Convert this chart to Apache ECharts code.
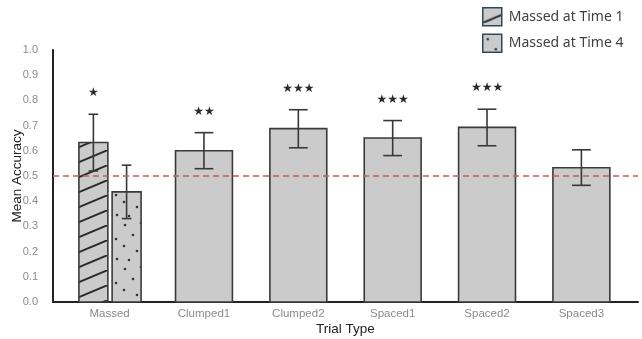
<!DOCTYPE html>
<html>
<head>
<meta charset="utf-8">
<script src="https://cdn.jsdelivr.net/npm/echarts@6/dist/echarts.min.js"></script>
<style>
html,body{margin:0;padding:0;background:#fff;}
#chart{width:642px;height:339px;}
</style>
</head>
<body>
<div id="chart"></div>
<script>
// ---- data ----
const categories = ['Massed', 'Clumped1', 'Clumped2', 'Spaced1', 'Spaced2', 'Spaced3'];
const massedNames = ['Massed at Time 1', 'Massed at Time 4'];
const massedMeans = [0.633, 0.437];
const massedErrLow = [0.520, 0.331];
const massedErrHigh = [0.745, 0.543];
const massedStars = ['★', ''];
const trialCategories = ['Clumped1', 'Clumped2', 'Spaced1', 'Spaced2', 'Spaced3'];
const trialMeans = [0.600, 0.688, 0.651, 0.693, 0.533];
const trialErrLow = [0.529, 0.612, 0.581, 0.620, 0.463];
const trialErrHigh = [0.672, 0.763, 0.720, 0.765, 0.604];
const trialStars = ['★★', '★★★', '★★★', '★★★', ''];
const chanceLevel = 0.5;
const yTickValues = [0, 0.1, 0.2, 0.3, 0.4, 0.5, 0.6, 0.7, 0.8, 0.9, 1.0];

// ---- styles ----
const BAR_FILL = '#cbcbcb';
const BAR_STROKE = '#3a3a3a';

function hatchPattern() {
  const c = document.createElement('canvas');
  c.width = 36; c.height = 15;
  const g = c.getContext('2d');
  g.fillStyle = BAR_FILL; g.fillRect(0, 0, 36, 15);
  g.strokeStyle = '#2a2a2a'; g.lineWidth = 2;
  for (const dx of [-36, 0, 36]) {
    g.beginPath(); g.moveTo(dx, 15); g.lineTo(dx + 36, 0); g.stroke();
  }
  return { image: c, repeat: 'repeat' };
}
function dotPattern() {
  const c = document.createElement('canvas');
  c.width = 30; c.height = 44;
  const g = c.getContext('2d');
  g.fillStyle = BAR_FILL; g.fillRect(0, 0, 30, 44);
  g.fillStyle = '#333';
  const pts = [[5, 5], [21, 3], [13, 15], [26, 19], [4, 26], [17, 31], [27, 39], [9, 40]];
  for (const p of pts) { g.beginPath(); g.arc(p[0], p[1], 1.3, 0, Math.PI * 2); g.fill(); }
  return { image: c, repeat: 'repeat' };
}
const hatch = hatchPattern();
const dots = dotPattern();

function makeRender(fill, offsetFrac, widthFrac, starsArr, errLowArr, errHighArr) {
  return function (params, api) {
    const i = params.dataIndex;
    const x = api.value(0), v = api.value(1);
    const unit = api.size([1, 0])[0];
    const base = api.coord([x, 0]);
    const cx = base[0] + offsetFrac * unit;
    const w = widthFrac * unit;
    const top = api.coord([x, v])[1];
    const eHi = api.coord([x, errHighArr[i]])[1];
    const eLo = api.coord([x, errLowArr[i]])[1];
    const cap = w * 0.33;
    const errStyle = { stroke: '#383838', lineWidth: 1.6 };
    return {
      type: 'group',
      children: [
        { type: 'rect', shape: { x: cx - w / 2, y: top, width: w, height: base[1] - top },
          style: { fill: fill, stroke: BAR_STROKE, lineWidth: 1.6 } },
        { type: 'line', shape: { x1: cx, y1: eHi, x2: cx, y2: eLo }, style: errStyle },
        { type: 'line', shape: { x1: cx - cap / 2, y1: eHi, x2: cx + cap / 2, y2: eHi }, style: errStyle },
        { type: 'line', shape: { x1: cx - cap / 2, y1: eLo, x2: cx + cap / 2, y2: eLo }, style: errStyle },
        { type: 'text', style: { text: starsArr[i], x: cx, y: eHi - 21, align: 'center', verticalAlign: 'middle',
          fill: '#2a2a2a', font: '12px "DejaVu Sans"' } }
      ]
    };
  };
}

const chart = echarts.init(document.getElementById('chart'), null, { renderer: 'canvas' });
const option = {
  animation: false,
  backgroundColor: '#fff',
  grid: { left: 53, right: 4, top: 50, bottom: 37, containLabel: false, outerBoundsMode: 'none' },
  legend: {
    orient: 'vertical', left: 482, top: 7, padding: 0,
    itemWidth: 19, itemHeight: 18, itemGap: 7,
    textStyle: { fontSize: 14, color: '#404040', fontFamily: 'Noto Sans', padding: [0, 0, 0, 2] },
    data: [
      { name: massedNames[0], icon: 'rect', itemStyle: { color: hatch, borderColor: '#2f4858', borderWidth: 1.5 } },
      { name: massedNames[1], icon: 'rect', itemStyle: { color: dots, borderColor: '#2f4858', borderWidth: 1.5 } }
    ]
  },
  xAxis: {
    type: 'value', min: -0.6, max: 5.6,
    axisLine: { show: true, onZero: false, lineStyle: { color: '#222', width: 2 } },
    axisTick: { show: false },
    splitLine: { show: false },
    axisLabel: {
      customValues: categories.map((c, i) => i),
      formatter: v => categories[Math.round(v)],
      color: '#8a8a8a', fontSize: 11.5, margin: 6, fontFamily: 'Liberation Sans'
    },
    name: 'Trial Type', nameLocation: 'middle', nameGap: 20, nameMoveOverlap: false,
    nameTextStyle: { fontSize: 13.5, color: '#222', fontFamily: 'Liberation Sans' }
  },
  yAxis: {
    type: 'value', min: 0, max: 1, interval: 0.1,
    axisLine: { show: true, onZero: false, lineStyle: { color: '#222', width: 2 } },
    axisTick: { show: false },
    splitLine: { show: false },
    axisLabel: {
      customValues: yTickValues,
      formatter: v => v.toFixed(1), color: '#8a8a8a', fontSize: 11, margin: 15, fontFamily: 'Liberation Sans'
    },
    name: 'Mean Accuracy', nameLocation: 'middle', nameGap: 29, nameRotate: 90, nameMoveOverlap: false,
    nameTextStyle: { fontSize: 13.5, color: '#222', fontFamily: 'Liberation Sans' }
  },
  series: [
    {
      name: massedNames[0], type: 'custom', itemStyle: { color: hatch },
      renderItem: makeRender(hatch, -0.172, 0.307, [massedStars[0]], [massedErrLow[0]], [massedErrHigh[0]]),
      encode: { x: 0, y: 1 },
      data: [[categories.indexOf('Massed'), massedMeans[0]]]
    },
    {
      name: massedNames[1], type: 'custom', itemStyle: { color: dots },
      renderItem: makeRender(dots, 0.18, 0.307, [massedStars[1]], [massedErrLow[1]], [massedErrHigh[1]]),
      encode: { x: 0, y: 1 },
      data: [[categories.indexOf('Massed'), massedMeans[1]]]
    },
    {
      name: 'Trials', type: 'custom', itemStyle: { color: BAR_FILL },
      renderItem: makeRender(BAR_FILL, 0, 0.603, trialStars, trialErrLow, trialErrHigh),
      encode: { x: 0, y: 1 },
      data: trialCategories.map((c, i) => [categories.indexOf(c), trialMeans[i]]),
      markLine: {
        silent: true, symbol: ['none', 'none'], label: { show: false },
        lineStyle: { color: '#c95a58', type: [6, 4], width: 1.6 },
        data: [{ yAxis: chanceLevel }]
      }
    }
  ]
};
chart.setOption(option);
</script>
</body>
</html>
